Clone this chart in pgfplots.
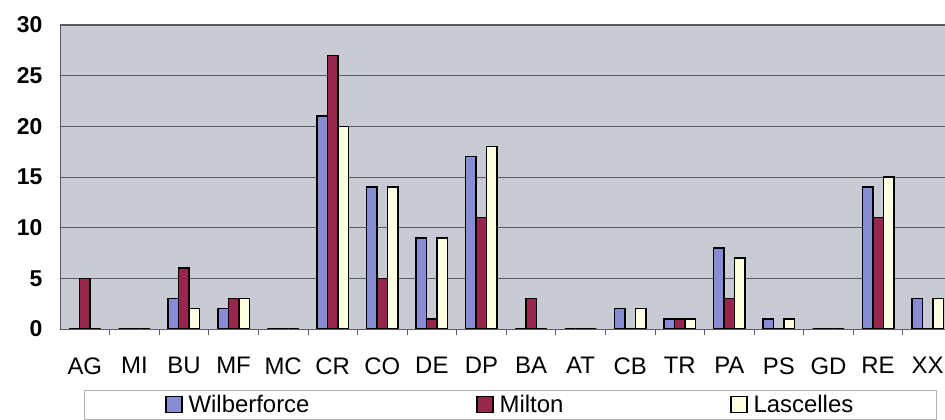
\documentclass[border=0pt]{standalone}
\usepackage{pgfplots}
\pgfplotsset{compat=1.18}
\usepackage{fontspec}
\setmainfont{Liberation Sans}
\definecolor{bgcol}{RGB}{200,203,212}
\definecolor{gridcol}{RGB}{90,90,96}
\definecolor{wilb}{RGB}{136,140,212}
\definecolor{milt}{RGB}{150,38,78}
\definecolor{lasc}{RGB}{255,255,226}
\begin{document}
\begin{tikzpicture}
\begin{axis}[
  at={(60bp,91bp)}, anchor=south west,
  scale only axis, width=885bp, height=304bp,
  xmin=-0.5, xmax=17.35, ymin=0, ymax=30,
  ybar=0pt, bar width=10.5bp,
  axis background/.style={fill=bgcol},
  axis x line*=box, axis y line*=left,
  axis line style={draw=gridcol, line width=1bp},
  ymajorgrids, grid style={draw=gridcol, line width=0.9bp},
  ytick={0,5,...,30}, major tick length=0pt,
  xtick={0,...,17},
  xticklabels={AG,MI,BU,MF,MC,CR,CO,DE,DP,BA,AT,CB,TR,PA,PS,GD,RE,XX},
  minor xtick={0.5,1.5,...,16.5}, minor tick length=6bp,
  minor tick style={draw=gridcol, line width=0.8bp},
  xtick pos=left,
  /pgf/number format/assume math mode=true,
  xticklabel style={font=\fontsize{24}{28}\selectfont, yshift=-25bp},
  yticklabel style={font=\fontsize{23}{27}\selectfont\bfseries, xshift=-14bp},
  every axis plot/.append style={draw=black, line width=1.5bp},
  legend columns=3,
  legend image code/.code={\draw[#1, line width=1.2bp] (0bp,-8bp) rectangle (16bp,8bp);},
  legend style={at={(axis description cs:0.0271,0)}, anchor=north west, yshift=-61bp,
    draw=gray!60, line width=0.8bp, font=\fontsize{24}{28}\selectfont,
    inner xsep=81bp, inner ysep=3bp,
    /tikz/every even column/.append style={column sep=165bp},
    /tikz/every odd column/.append style={column sep=0bp}},
  legend cell align=left,
]
\addplot[fill=wilb] coordinates {(0,0) (1,0) (2,3) (3,2) (4,0) (5,21) (6,14) (7,9) (8,17) (9,0) (10,0) (11,2) (12,1) (13,8) (14,1) (15,0) (16,14) (17,3)};
\addplot[fill=milt] coordinates {(0,5) (1,0) (2,6) (3,3) (4,0) (5,27) (6,5) (7,1) (8,11) (9,3) (10,0) (11,0) (12,1) (13,3) (14,0) (15,0) (16,11) (17,0)};
\addplot[fill=lasc] coordinates {(0,0) (1,0) (2,2) (3,3) (4,0) (5,20) (6,14) (7,9) (8,18) (9,0) (10,0) (11,2) (12,1) (13,7) (14,1) (15,0) (16,15) (17,3)};
\legend{\hspace{4bp}Wilberforce,\hspace{4bp}Milton,\hspace{4bp}Lascelles}
\end{axis}
\pgfresetboundingbox
\path[use as bounding box] (0,0) rectangle (945bp,420bp);
\end{tikzpicture}
\end{document}
